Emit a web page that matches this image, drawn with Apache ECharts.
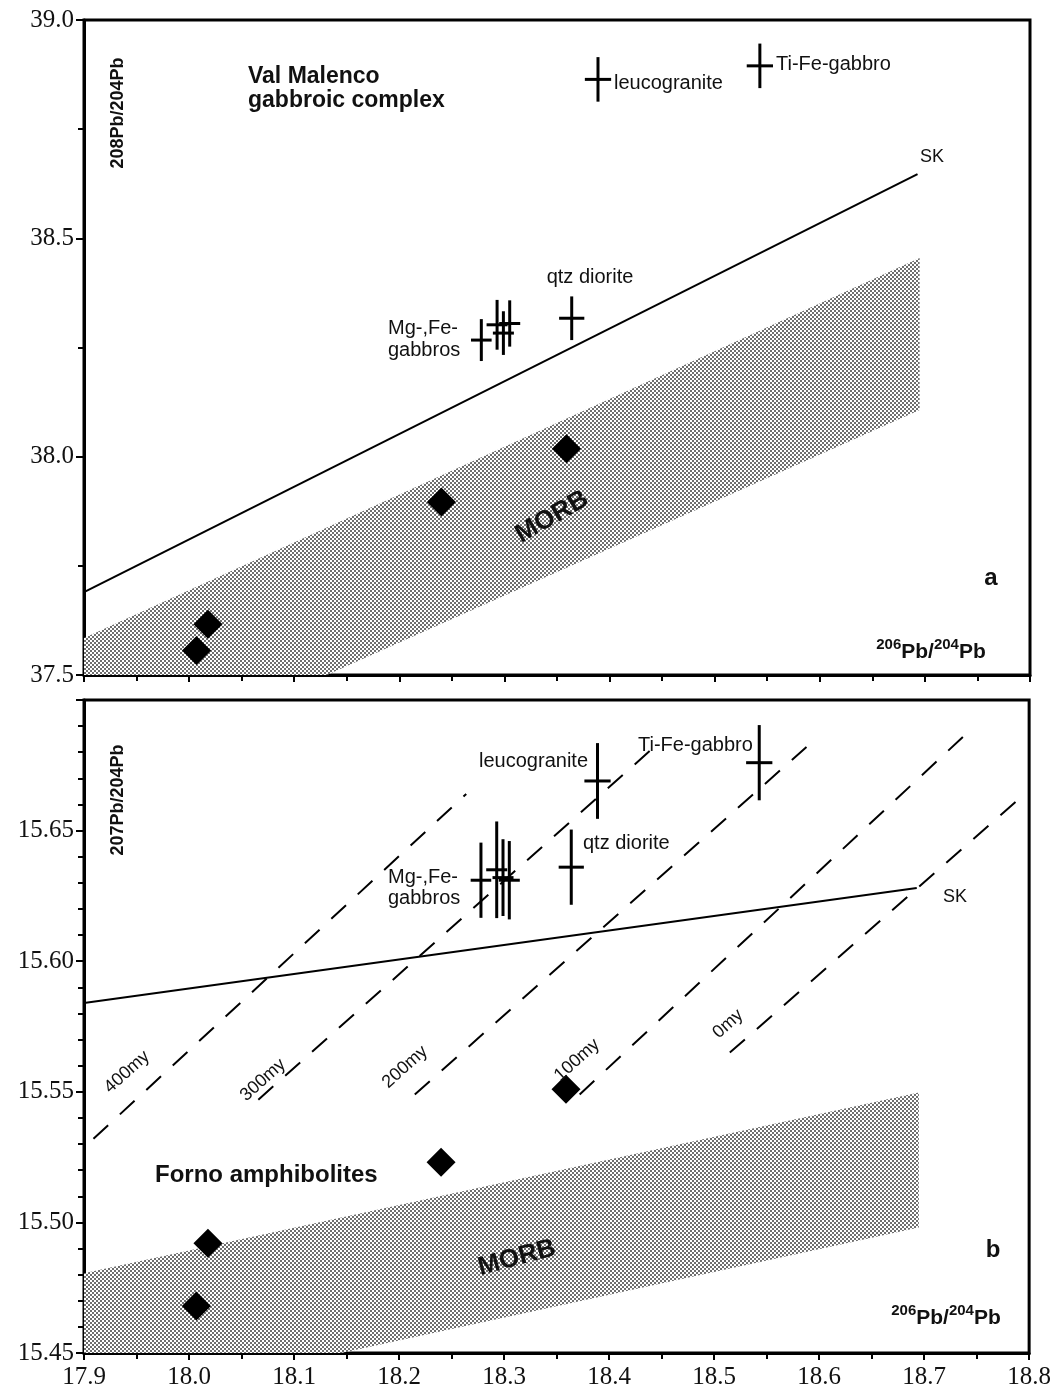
<!DOCTYPE html>
<html><head><meta charset="utf-8">
<script src="https://cdn.jsdelivr.net/npm/echarts@6/dist/echarts.min.js"></script>
<style>html,body{margin:0;padding:0;background:#fff}#c{width:1054px;height:1400px}</style>
</head><body><div id="c"></div>
<script>
// ---------- data ----------
// crosses: samples of Val Malenco gabbroic complex
const crossNames = ['leucogranite', 'Ti-Fe-gabbro', 'qtz diorite', 'Mg-,Fe-gabbro 1', 'Mg-,Fe-gabbro 2', 'Mg-,Fe-gabbro 3', 'Mg-,Fe-gabbro 4'];
const crossX   = [18.389, 18.543, 18.364, 18.278, 18.293, 18.299, 18.305];
const crossXErr = [0.0125, 0.0125, 0.012, 0.0098, 0.010, 0.010, 0.010];
const cross208 = [38.864, 38.895, 38.317, 38.267, 38.302, 38.283, 38.305];
const err208   = [0.051, 0.051, 0.050, 0.048, 0.057, 0.050, 0.053];
const cross207 = [15.669, 15.676, 15.636, 15.631, 15.635, 15.632, 15.631];
const err207   = [0.0145, 0.0144, 0.0144, 0.0144, 0.0185, 0.0147, 0.0150];

// diamonds: Forno amphibolites
const amphX   = [18.007, 18.018, 18.240, 18.359];
const amph208 = [37.556, 37.616, 37.896, 38.018];
const amph207 = [15.468, 15.492, 15.523, 15.551];

// SK (Stacey-Kramers) lines
const skX   = [17.9, 18.693];
const sk208 = [37.690, 38.647];
const sk207 = [15.584, 15.628];

// MORB fields (polygon vertices)
const morb208 = [[17.9, 37.585], [18.695, 38.455], [18.695, 38.107], [18.131, 37.5], [17.9, 37.5]];
const morb207 = [[17.9, 15.4805], [18.695, 15.5497], [18.695, 15.498], [18.145, 15.45], [17.9, 15.45]];

// isochrons (dashed)
const isoLabels = ['400my', '300my', '200my', '100my', '0my'];
const isoX0 = [17.909, 18.066, 18.215, 18.372, 18.515];
const isoY0 = [15.532, 15.547, 15.549, 15.549, 15.565];
const isoX1 = [18.264, 18.443, 18.588, 18.748, 18.790];
const isoY1 = [15.664, 15.682, 15.682, 15.690, 15.662];

// axes
const xRange = [17.9, 18.8];
const y208Range = [37.5, 39.0];
const y207Range = [15.45, 15.70];

// ---------- styles ----------
const SANS = 'Liberation Sans, Arial, Helvetica, sans-serif';
const SERIF = 'Liberation Serif, Times New Roman, serif';
const INK = '#111';

function makeStipple() {
  const c = document.createElement('canvas');
  c.width = 4; c.height = 4;
  const g = c.getContext('2d');
  g.fillStyle = '#ffffff'; g.fillRect(0, 0, 4, 4);
  g.fillStyle = '#6e6e6e';
  g.fillRect(0, 0, 2, 2);
  g.fillRect(2, 2, 2, 2);
  return c;
}
const stipple = { image: makeStipple(), repeat: 'repeat' };

function xAxisDef(gi, labels) {
  return {
    gridIndex: gi, type: 'value', min: xRange[0], max: xRange[1], interval: 0.1,
    axisLine: { show: true, onZero: false, lineStyle: { color: '#000', width: 3 } },
    axisTick: { show: true, inside: false, length: 7, lineStyle: { color: '#000', width: 2 } },
    minorTick: { show: true, splitNumber: 2, length: 6, lineStyle: { color: '#000', width: 2 } },
    splitLine: { show: false }, minorSplitLine: { show: false },
    axisLabel: { show: labels, fontFamily: SERIF, fontSize: 25, color: INK, margin: 12,
      formatter: v => v.toFixed(1) }
  };
}
function yAxisDef(gi, range, interval, split, digits, showMax) {
  return {
    gridIndex: gi, type: 'value', min: range[0], max: range[1], interval: interval,
    axisLine: { show: true, onZero: false, lineStyle: { color: '#000', width: 3 } },
    axisTick: { show: true, inside: false, length: 8, lineStyle: { color: '#000', width: 2 } },
    minorTick: { show: true, splitNumber: split, length: 6, lineStyle: { color: '#000', width: 2 } },
    splitLine: { show: false }, minorSplitLine: { show: false },
    axisLabel: { show: true, fontFamily: SERIF, fontSize: 25, color: INK, margin: 10,
      showMaxLabel: showMax, formatter: v => v.toFixed(digits) }
  };
}

function polygonSeries(pts, idx) {
  return {
    type: 'custom', xAxisIndex: idx, yAxisIndex: idx, data: pts, silent: true, z: 1,
    renderItem: (params, api) => {
      if (params.dataIndex !== 0) return null;
      return { type: 'polygon', shape: { points: pts.map(p => api.coord(p)) },
               style: { fill: stipple, stroke: null } };
    }
  };
}
function crossSeries(ys, errs, idx) {
  return {
    type: 'custom', xAxisIndex: idx, yAxisIndex: idx, silent: true, z: 5,
    data: crossX.map((x, i) => [x, ys[i], crossXErr[i], errs[i]]),
    encode: { x: 0, y: 1 },
    renderItem: (params, api) => {
      const x = api.value(0), y = api.value(1), ex = api.value(2), ey = api.value(3);
      const a = api.coord([x - ex, y]), b = api.coord([x + ex, y]);
      const c = api.coord([x, y - ey]), d = api.coord([x, y + ey]);
      return { type: 'group', children: [
        { type: 'line', shape: { x1: a[0], y1: a[1], x2: b[0], y2: b[1] }, style: { stroke: '#000', lineWidth: 3 } },
        { type: 'line', shape: { x1: c[0], y1: c[1], x2: d[0], y2: d[1] }, style: { stroke: '#000', lineWidth: 3 } }
      ] };
    }
  };
}
function lineSeries(xs, ys, idx, dashed) {
  return {
    type: 'line', xAxisIndex: idx, yAxisIndex: idx, symbol: 'none', silent: true, z: 3,
    data: xs.map((x, i) => [x, ys[i]]),
    lineStyle: { color: '#000', width: 2, type: dashed ? [20, 16] : 'solid', opacity: 1 }
  };
}
function diamondSeries(ys, idx) {
  return {
    type: 'scatter', xAxisIndex: idx, yAxisIndex: idx, symbol: 'diamond', symbolSize: 29, silent: true, z: 6,
    data: amphX.map((x, i) => [x, ys[i]]),
    itemStyle: { color: '#000', opacity: 1 }
  };
}

function txt(text, x, y, opt) {
  opt = opt || {};
  return {
    type: 'text', x: x, y: y, rotation: (opt.rot || 0) * Math.PI / 180, z: 10, silent: true,
    style: {
      text: text, fill: INK,
      fontFamily: opt.family || SANS, fontSize: opt.size || 20, fontWeight: opt.bold ? 'bold' : 'normal',
      textAlign: opt.align || 'left', textVerticalAlign: 'middle',
      align: opt.align || 'left', verticalAlign: 'middle',
      lineHeight: opt.lh, rich: opt.rich
    }
  };
}
const supRich = {
  s: { fontFamily: SANS, fontSize: 15, fontWeight: 'bold', fill: INK, verticalAlign: 'top', lineHeight: 26 },
  b: { fontFamily: SANS, fontSize: 21, fontWeight: 'bold', fill: INK, verticalAlign: 'bottom', lineHeight: 26 }
};
const ratioX = '{s|206}{b|Pb/}{s|204}{b|Pb}';

const chart = echarts.init(document.getElementById('c'), null, { renderer: 'canvas' });
const option = {
  animation: false,
  backgroundColor: '#fff',
  grid: [
    { left: 84, top: 20, width: 946, height: 655, show: true, borderColor: '#000', borderWidth: 3, backgroundColor: 'transparent' },
    { left: 84, top: 700, width: 946, height: 653, show: true, borderColor: '#000', borderWidth: 3, backgroundColor: 'transparent' }
  ],
  xAxis: [xAxisDef(0, false), xAxisDef(1, true)],
  yAxis: [
    yAxisDef(0, y208Range, 0.5, 2, 1, true),
    yAxisDef(1, y207Range, 0.05, 5, 2, false)
  ],
  series: [
    polygonSeries(morb208, 0),
    polygonSeries(morb207, 1),
    lineSeries(skX, sk208, 0, false),
    lineSeries(skX, sk207, 1, false),
    ...isoLabels.map((n, i) => Object.assign(lineSeries([isoX0[i], isoX1[i]], [isoY0[i], isoY1[i]], 1, true), { name: n })),
    crossSeries(cross208, err208, 0),
    crossSeries(cross207, err207, 1),
    diamondSeries(amph208, 0),
    diamondSeries(amph207, 1)
  ],
  graphic: { elements: [
    // panel a
    txt('208Pb/204Pb', 118, 113, { bold: true, size: 18, align: 'center', rot: 90 }),
    txt('Val Malenco\ngabbroic complex', 248, 89, { bold: true, size: 23, lh: 24 }),
    txt('leucogranite', 614, 83, {}),
    txt('Ti-Fe-gabbro', 776, 64, {}),
    txt('SK', 932, 157, { size: 18, align: 'center' }),
    txt('qtz diorite', 590, 277, { align: 'center' }),
    txt('Mg-,Fe-', 388, 328, {}),
    txt('gabbros', 388, 350, {}),
    txt('MORB', 552, 517, { bold: true, size: 26, align: 'center', rot: 30 }),
    txt('a', 991, 578, { bold: true, size: 24, align: 'center' }),
    txt(ratioX, 931, 650, { align: 'center', rich: supRich }),
    // panel b
    txt('207Pb/204Pb', 118, 800, { bold: true, size: 18, align: 'center', rot: 90 }),
    txt('leucogranite', 588, 761, { align: 'right' }),
    txt('Ti-Fe-gabbro', 638, 745, {}),
    txt('qtz diorite', 583, 843, {}),
    txt('Mg-,Fe-', 388, 877, {}),
    txt('gabbros', 388, 898, {}),
    txt('SK', 955, 897, { size: 18, align: 'center' }),
    txt(isoLabels[0], 127, 1072, { size: 18, align: 'center', rot: 42 }),
    txt(isoLabels[1], 263, 1080, { size: 18, align: 'center', rot: 42 }),
    txt(isoLabels[2], 405, 1067, { size: 18, align: 'center', rot: 42 }),
    txt(isoLabels[3], 577, 1060, { size: 18, align: 'center', rot: 42 }),
    txt(isoLabels[4], 728, 1024, { size: 18, align: 'center', rot: 42 }),
    txt('Forno amphibolites', 155, 1175, { bold: true, size: 24 }),
    txt('MORB', 517, 1258, { bold: true, size: 26, align: 'center', rot: 15 }),
    txt('b', 993, 1250, { bold: true, size: 24, align: 'center' }),
    txt(ratioX, 946, 1316, { align: 'center', rich: supRich })
  ] }
};
chart.setOption(option);
</script>
</body></html>
